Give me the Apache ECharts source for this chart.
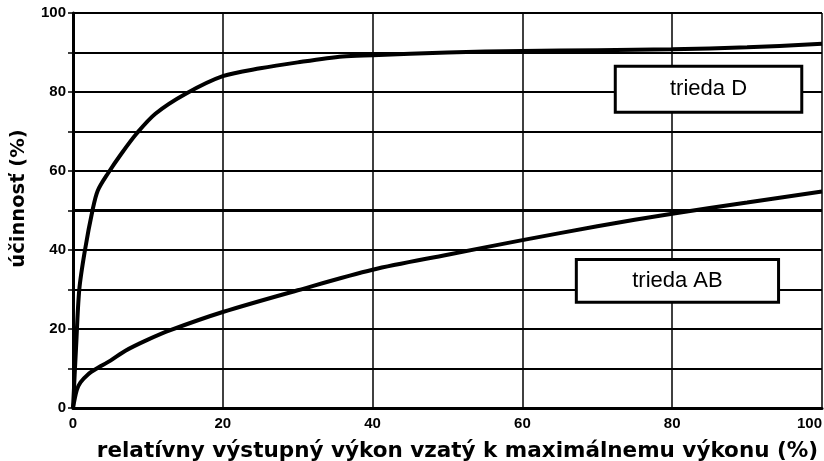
<!DOCTYPE html>
<html>
<head>
<meta charset="utf-8">
<script src="https://cdn.jsdelivr.net/npm/echarts@6/dist/echarts.min.js"></script>
<style>
  html, body { margin: 0; padding: 0; background: #fff; }
  #chart { width: 824px; height: 461px; }
</style>
</head>
<body>
<div id="chart"></div>
<script>
// trieda D
const classDX = [0, 0.4, 0.84, 1.6, 2.6, 3.3, 4.7, 6.5, 8.5, 11, 15, 20, 25, 30, 36, 40, 50, 60, 70, 80, 90, 100]
const classDY = [0, 15, 30, 40, 50, 55, 59.5, 64.5, 69.5, 74.5, 79.5, 84, 86, 87.5, 89, 89.3, 90, 90.4, 90.6, 90.8, 91.3, 92.2]
// trieda AB
const classABX = [0, 0.5, 1, 2, 3, 5, 7, 10, 13, 20, 30, 40, 50, 60, 70, 80, 90, 100]
const classABY = [0, 4.5, 6.5, 8.5, 9.8, 12, 14.5, 17.3, 19.7, 24.3, 29.8, 35, 38.8, 42.5, 46, 49.2, 52, 54.8]

const seriesNames = ['trieda D', 'trieda AB']
const xTitle = 'relatívny výstupný výkon vzatý k maximálnemu výkonu (%)'
const yTitle = 'účinnosť (%)'

const zip = (xs, ys) => xs.map((x, i) => [x, ys[i]])

// label boxes, in data units: [[x0, y0], [x1, y1]]
const boxD = [[72.4, 86.5], [97.3, 74.9]]
const boxAB = [[67.2, 37.6], [94.2, 26.8]]

const chart = echarts.init(document.getElementById('chart'))

const boxStyle = {
  silent: true,
  itemStyle: { color: '#fff', borderColor: '#000', borderWidth: 3 },
  label: {
    show: true,
    position: 'inside',
    color: '#000',
    fontFamily: 'Liberation Sans',
    fontSize: 22,
  },
}

function lineSeries(name, data, box) {
  return {
    name,
    type: 'line',
    data,
    showSymbol: false,
    smooth: 0.3,
    lineStyle: { color: '#000', width: 4 },
    markArea: {
      ...boxStyle,
      data: [[{ name, coord: box[0] }, { coord: box[1] }]],
    },
  }
}

const tickFont = { color: '#000', fontFamily: 'Liberation Sans', fontWeight: 'bold', fontSize: 15 }
const titleFont = { color: '#000', fontFamily: 'DejaVu Sans', fontWeight: 'bold' }

chart.setOption({
  animation: false,
  backgroundColor: '#fff',
  grid: { left: 73, right: 2, top: 13, bottom: 53, outerBoundsMode: 'none' },
  xAxis: {
    type: 'value',
    min: 0,
    max: 100,
    interval: 20,
    name: xTitle,
    nameLocation: 'middle',
    nameGap: 32,
    nameTextStyle: { ...titleFont, fontSize: 21.5, padding: [0, 0, 0, 20] },
    axisLine: { lineStyle: { color: '#000', width: 3 } },
    axisTick: { show: false },
    axisLabel: { ...tickFont, margin: 8, alignMaxLabel: 'right' },
    splitLine: { show: true, lineStyle: { color: '#000', width: 1.5 } },
  },
  yAxis: {
    type: 'value',
    min: 0,
    max: 100,
    interval: 10,
    name: yTitle,
    nameLocation: 'middle',
    nameGap: 44,
    nameTextStyle: { ...titleFont, fontSize: 19.5, padding: [0, 0, 0, 24] },
    axisLine: { lineStyle: { color: '#000', width: 3 } },
    axisTick: { show: true, length: 5, lineStyle: { color: '#000', width: 1.5 } },
    axisLabel: { ...tickFont, margin: 7, formatter: (v) => (v % 20 === 0 ? v : '') },
    splitLine: { show: true, lineStyle: { color: '#000', width: 2 } },
  },
  series: [
    {
      ...lineSeries(seriesNames[0], zip(classDX, classDY), boxD),
      markLine: {
        silent: true,
        symbol: 'none',
        label: { show: false },
        lineStyle: { color: '#000', width: 3, type: 'solid' },
        data: [{ yAxis: 50 }],
      },
    },
    lineSeries(seriesNames[1], zip(classABX, classABY), boxAB),
  ],
})
</script>
</body>
</html>
